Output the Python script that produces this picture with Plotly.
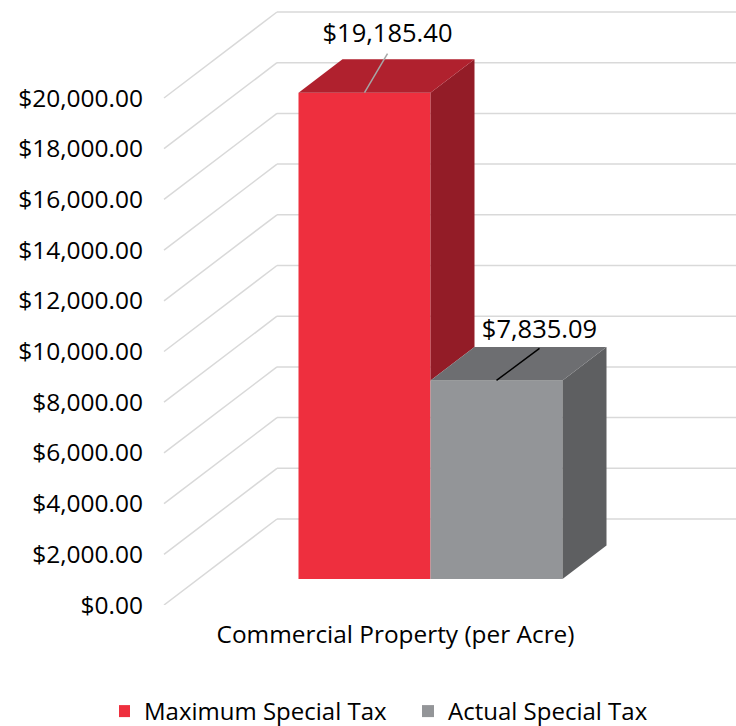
import plotly.graph_objects as go

category = "Commercial Property (per Acre)"
series_names = ["Maximum Special Tax", "Actual Special Tax"]
series_values = [19185.40, 7835.09]
value_labels = ["$19,185.40", "$7,835.09"]
tick_values = [0, 2000, 4000, 6000, 8000, 10000, 12000, 14000, 16000, 18000, 20000]
tick_labels = ["$0.00", "$2,000.00", "$4,000.00", "$6,000.00", "$8,000.00", "$10,000.00",
               "$12,000.00", "$14,000.00", "$16,000.00", "$18,000.00", "$20,000.00"]

# styling / geometry
front_cols = ["#EE2F3E", "#939598"]
top_cols = ["#B0212E", "#6D6E71"]
side_cols = ["#931C27", "#5E5F61"]
leader_cols = ["#A6A6A6", "#000000"]
grid_col = "#D9D9D9"
FONT = "Open Sans"
W, H = 736, 726
L, B = 146, 121
PLOT_W, PLOT_H = W - L, H - B
PX_PER_UNIT = 507 / 20000
Y_MAX = PLOT_H / PX_PER_UNIT
def px(n):
    return n / PX_PER_UNIT

bar_centers = [364.5, 496.5]
bar_width = 132
bar_base = px(26)
depth_x, depth_y = 44, px(33.5)
wall_left, wall_dx, wall_dy = 164, 113, px(86)
leader_dx = [23, 43]
leader_dy = [39, 32]
label_dx = [23, 43]
label_dy = [57, 49]

fig = go.Figure()

# front faces
for i, name in enumerate(series_names):
    fig.add_bar(x=[bar_centers[i]], y=[series_values[i]], base=[bar_base], width=[bar_width],
                name=name, marker=dict(color=front_cols[i], line=dict(width=0)))

# side and top faces; a side face stops where the next bar in front of it begins
for i in range(2):
    x0 = bar_centers[i] - bar_width / 2
    x1 = bar_centers[i] + bar_width / 2
    y1 = bar_base + series_values[i]
    y0 = bar_base + series_values[i + 1] if i + 1 < len(series_values) else bar_base
    fig.add_scatter(x=[x1, x1 + depth_x, x1 + depth_x, x1, x1],
                    y=[y0, y0 + depth_y, y1 + depth_y, y1, y0],
                    mode="lines", fill="toself", fillcolor=side_cols[i],
                    line=dict(width=0), showlegend=False, hoverinfo="skip")
    fig.add_scatter(x=[x0, x1, x1 + depth_x, x0 + depth_x, x0],
                    y=[y1, y1, y1 + depth_y, y1 + depth_y, y1],
                    mode="lines", fill="toself", fillcolor=top_cols[i],
                    line=dict(width=0), showlegend=False, hoverinfo="skip")

# leader lines and value labels
for i in range(2):
    cx, top = bar_centers[i], bar_base + series_values[i]
    fig.add_scatter(x=[cx, cx + leader_dx[i]], y=[top, top + px(leader_dy[i])], mode="lines",
                    line=dict(color=leader_cols[i], width=1.5), showlegend=False, hoverinfo="skip")
    fig.add_scatter(x=[cx + label_dx[i]], y=[top + px(label_dy[i])], mode="text",
                    text=[value_labels[i]], textposition="middle center",
                    textfont=dict(family=FONT, size=25.5, color="#000000"),
                    showlegend=False, hoverinfo="skip", cliponaxis=False)

# walls: gridlines run along the side wall then the back wall
shapes = []
for v in tick_values:
    line = dict(color=grid_col, width=1.5)
    shapes.append(dict(type="line", xref="x", yref="y", layer="below",
                       x0=wall_left, y0=v, x1=wall_left + wall_dx, y1=v + wall_dy, line=line))
    shapes.append(dict(type="line", xref="x", yref="y", layer="below",
                       x0=wall_left + wall_dx, y0=v + wall_dy, x1=W, y1=v + wall_dy, line=line))

fig.update_layout(
    width=W, height=H, margin=dict(l=L, r=0, t=0, b=B, autoexpand=False),
    paper_bgcolor="white", plot_bgcolor="white",
    barmode="overlay", shapes=shapes,
    font=dict(family=FONT, size=24, color="#000000"),
    xaxis=dict(range=[L, W], tickvals=[395.5], ticktext=[category], showgrid=False,
               zeroline=False, showline=False, ticks="", ticklabelstandoff=13,
               tickfont=dict(family=FONT, size=24.4), fixedrange=True),
    yaxis=dict(range=[0, Y_MAX], tickvals=tick_values, ticktext=tick_labels, showgrid=False,
               zeroline=False, showline=False, ticks="", tickfont=dict(family=FONT, size=24.5),
               ticklabelstandoff=2, fixedrange=True),
    legend=dict(orientation="h", x=(119 - L) / PLOT_W, xanchor="left",
                y=(PLOT_H - 689) / PLOT_H, yanchor="top",
                entrywidth=274, entrywidthmode="pixels", indentation=-15,
                font=dict(family=FONT, size=24), bgcolor="rgba(0,0,0,0)", traceorder="normal"),
)
fig.write_html("out.html", config={"displayModeBar": False},
               post_script="document.body.style.margin='0';document.documentElement.style.overflow='hidden';")
